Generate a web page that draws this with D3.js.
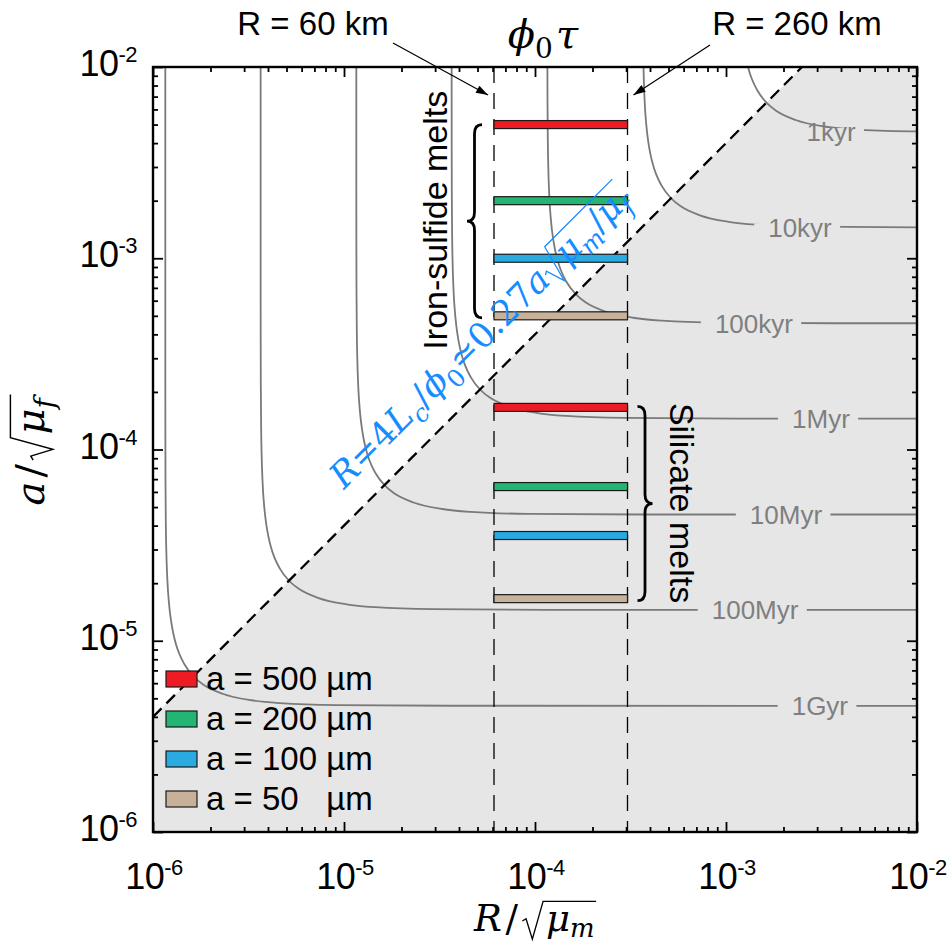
<!DOCTYPE html>
<html><head><meta charset="utf-8">
<script src="https://cdn.jsdelivr.net/npm/d3@7"></script>
<style>body{margin:0;background:#fff} svg{display:block}</style>
</head><body>
<svg id="c" width="952" height="944"></svg>
<script>
// ---------------- data ----------------
const decadeTicks = [1e-6, 1e-5, 1e-4, 1e-3, 1e-2];
const contourLabels = ["1kyr", "10kyr", "100kyr", "1Myr", "10Myr", "100Myr", "1Gyr"];
// vertical (large a) asymptote in R and horizontal (large R) asymptote in a, per isochrone
const contourR = [1.16e-3, 3.66e-4, 1.16e-4, 3.66e-5, 1.16e-5, 3.66e-6, 1.16e-6];
const contourA = [4.57e-3, 1.45e-3, 4.57e-4, 1.45e-4, 4.57e-5, 1.45e-5, 4.57e-6];
const contourLabelR = [3.55e-3, 2.44e-3, 1.40e-3, 3.14e-3, 2.06e-3, 1.42e-3, 3.10e-3];
// knee shape of each isochrone, in decades away from its two asymptotes
const kneeDR = [0, 0.00003, 0.0001, 0.0003, 0.001, 0.003, 0.005, 0.01, 0.02, 0.03, 0.04, 0.055, 0.07, 0.1, 0.15, 0.2, 0.3, 0.45, 0.6, 0.9, 1.5, 4];
const kneeDA = [5, 1.93, 1.67, 1.43, 1.169, 0.931, 0.821, 0.673, 0.528, 0.445, 0.387, 0.325, 0.280, 0.217, 0.151, 0.110, 0.063, 0.029, 0.014, 0.0035, 0.0002, 0];
const diagonalR = [1e-6, 2.5e-3];
const diagonalA = [4e-6, 1e-2];
const radiusR = [6.1e-5, 3.05e-4];
const radiusLabels = ["R = 60 km", "R = 260 km"];
const grainLabels = ["a = 500 µm", "a = 200 µm", "a = 100 µm", "a = 50   µm"];
const grainColors = ["#ed1c24", "#22b573", "#29abe2", "#c7b299"];
const ironA = [5.0e-3, 2.0e-3, 1.0e-3, 5.0e-4];
const silicateA = [1.66e-4, 6.4e-5, 3.55e-5, 1.66e-5];

// ---------------- setup ----------------
const svg = d3.select("#c");
const L = 153, R = 917, T = 67, B = 832;
const x = d3.scaleLog().domain([1e-6, 1e-2]).range([L, R]);
const y = d3.scaleLog().domain([1e-6, 1e-2]).range([B, T]);
const sans = "'Liberation Sans', Arial, Helvetica, sans-serif";
const serif = "'DejaVu Serif', 'Liberation Serif', serif";
const shade = "#e6e6e6";

const defs = svg.append("defs");
defs.append("clipPath").attr("id", "clip").append("rect")
  .attr("x", L).attr("y", T).attr("width", R - L).attr("height", B - T);
defs.append("marker").attr("id", "arr").attr("viewBox", "0 0 12 8")
  .attr("refX", 12).attr("refY", 4).attr("markerWidth", 13).attr("markerHeight", 8)
  .attr("markerUnits", "userSpaceOnUse").attr("orient", "auto")
  .append("path").attr("d", "M0,0 L12,4 L0,8 Z").attr("fill", "#000");

const plot = svg.append("g").attr("clip-path", "url(#clip)");

// shaded region below diagonal
const shadePts = [[diagonalR[0], diagonalA[0]], [diagonalR[1], diagonalA[1]], [1e-2, 1e-2], [1e-2, 1e-6], [1e-6, 1e-6]];
plot.append("path").attr("d", d3.line().x(d => x(d[0])).y(d => y(d[1]))(shadePts) + "Z")
  .attr("fill", shade);

// isochrone curves
const cline = d3.line().x(d => x(d[0])).y(d => y(d[1])).curve(d3.curveMonotoneX);
contourLabels.forEach((lab, i) => {
  const pts = kneeDR.map((d, j) => [contourR[i] * Math.pow(10, d), contourA[i] * Math.pow(10, kneeDA[j])]);
  plot.append("path").attr("d", cline(pts)).attr("fill", "none")
    .attr("stroke", "#7a7a7a").attr("stroke-width", 1.8);
});

// diagonal dashed line
plot.append("line")
  .attr("x1", x(diagonalR[0])).attr("y1", y(diagonalA[0]))
  .attr("x2", x(diagonalR[1])).attr("y2", y(diagonalA[1]))
  .attr("stroke", "#000").attr("stroke-width", 2.3).attr("stroke-dasharray", "12,7");

// contour labels with gaps
contourLabels.forEach((lab, i) => {
  const cx = x(contourLabelR[i]), cy = y(contourA[i]);
  const g = svg.append("g");
  const rect = g.append("rect").attr("fill", shade);
  const t = g.append("text").attr("x", cx).attr("y", cy + 26 * 0.36)
    .attr("text-anchor", "middle").attr("font-family", sans).attr("font-size", 26)
    .attr("fill", "#7f7f7f").text(lab);
  const bb = t.node().getBBox();
  rect.attr("x", bb.x - 14).attr("y", cy - 4).attr("width", bb.width + 22).attr("height", 8);
});

// vertical dashed radius lines
radiusR.forEach(r => {
  svg.append("line").attr("x1", x(r)).attr("x2", x(r)).attr("y1", T).attr("y2", B)
    .attr("stroke", "#000").attr("stroke-width", 1.3).attr("stroke-dasharray", "16,10");
});

// bars
const barH = 8;
[ironA, silicateA].forEach(arr => {
  arr.forEach((a, i) => {
    svg.append("rect").attr("x", x(radiusR[0])).attr("width", x(radiusR[1]) - x(radiusR[0]))
      .attr("y", y(a) - barH / 2).attr("height", barH)
      .attr("fill", grainColors[i]).attr("stroke", "#1a1a1a").attr("stroke-width", 1.2);
  });
});

// braces
function brace(xb, xt, y1, y2) {
  const xm = (xb + xt) / 2, ym = (y1 + y2) / 2, r = 9;
  return `M${xb},${y1} Q${xm},${y1} ${xm},${y1 + r} L${xm},${ym - r} Q${xm},${ym} ${xt},${ym} ` +
    `Q${xm},${ym} ${xm},${ym + r} L${xm},${y2 - r} Q${xm},${y2} ${xb},${y2}`;
}
svg.append("path").attr("d", brace(x(radiusR[0]) - 12, x(radiusR[0]) - 27, y(ironA[0]), y(ironA[3]) + 2))
  .attr("fill", "none").attr("stroke", "#000").attr("stroke-width", 2.8);
svg.append("path").attr("d", brace(x(radiusR[1]) + 10, x(radiusR[1]) + 25, y(silicateA[0]) - 1, y(silicateA[3]) + 2))
  .attr("fill", "none").attr("stroke", "#000").attr("stroke-width", 2.8);

svg.append("text").attr("transform", `translate(${x(radiusR[0]) - 47},${(y(ironA[0]) + y(ironA[3])) / 2}) rotate(-90)`)
  .attr("text-anchor", "middle").attr("font-family", sans).attr("font-size", 34).text("Iron-sulfide melts");
svg.append("text").attr("transform", `translate(${x(radiusR[1]) + 42},${(y(silicateA[0]) + y(silicateA[3])) / 2}) rotate(90)`)
  .attr("text-anchor", "middle").attr("font-family", sans).attr("font-size", 34).text("Silicate melts");

// legend
grainLabels.forEach((lab, i) => {
  const cy = 679 + i * 40;
  svg.append("rect").attr("x", 166).attr("y", cy - 8).attr("width", 31).attr("height", 16)
    .attr("fill", grainColors[i]).attr("stroke", "#1a1a1a").attr("stroke-width", 1.2);
  svg.append("text").attr("x", 206).attr("y", cy + 11).attr("font-family", sans).attr("font-size", 33)
    .attr("xml:space", "preserve").style("white-space", "pre").text(lab);
});

// ---------------- axes ----------------
const minor = x.ticks().filter(v => !decadeTicks.some(d => Math.abs(v / d - 1) < 1e-6));
function ax(gen, scale, vals, size, tr) {
  const g = svg.append("g").attr("transform", tr)
    .call(gen(scale).tickValues(vals).tickSize(-size).tickSizeOuter(0).tickFormat(""));
  g.select(".domain").remove();
  g.selectAll(".tick line").attr("stroke", "#000").attr("stroke-width", 1.8);
}
[[minor, 5], [decadeTicks, 10]].forEach(([vals, s]) => {
  ax(d3.axisBottom, x, vals, s, `translate(0,${B})`);
  ax(d3.axisTop, x, vals, s, `translate(0,${T})`);
  ax(d3.axisLeft, y, vals, s, `translate(${L},0)`);
  ax(d3.axisRight, y, vals, s, `translate(${R},0)`);
});
svg.append("rect").attr("x", L).attr("y", T).attr("width", R - L).attr("height", B - T)
  .attr("fill", "none").attr("stroke", "#000").attr("stroke-width", 2.4);

function powLabel(v, px, py, anchor) {
  const t = svg.append("text").attr("x", px).attr("y", py).attr("text-anchor", anchor)
    .attr("font-family", sans).attr("font-size", 36).attr("letter-spacing", -0.5);
  t.append("tspan").text("10");
  t.append("tspan").attr("dy", -14).attr("font-size", 22).text(String(Math.round(Math.log10(v))));
}
decadeTicks.forEach(v => powLabel(v, x(v) + 1, 889, "middle"));
decadeTicks.forEach(v => powLabel(v, L - 16, y(v) + 9, "end"));

// ---------------- math text ----------------
function mathLayout(parent, parts, fs, color, radH, subOff) {
  const g = parent.append("g");
  let cx = 0;
  const h = radH || 0.86;
  const so = subOff || 0.25;
  function piece(p) {
    if (p.rad) {
      const x0 = cx; cx += fs * 0.64;
      p.rad.forEach(piece);
      const x1 = cx + fs * 0.04;
      g.append("path").attr("d",
        `M${x0},${-fs * 0.27} L${x0 + fs * 0.1},${-fs * 0.33} L${x0 + fs * 0.27},${fs * 0.22} L${x0 + fs * 0.56},${-fs * h} L${x1},${-fs * h}`)
        .attr("fill", "none").attr("stroke", color).attr("stroke-width", fs * 0.036);
      cx = x1;
      return;
    }
    cx += (p.pre || 0) * fs;
    const sub = !!p.sub;
    const t = g.append("text").attr("x", cx).attr("y", sub ? fs * so : 0)
      .attr("font-family", serif).attr("font-size", sub ? fs * 0.7 : fs)
      .attr("font-style", p.it ? "italic" : "normal").attr("fill", color).text(p.t);
    cx += t.node().getComputedTextLength() + (p.dx || 0) * fs;
  }
  parts.forEach(piece);
  return { g, width: cx };
}
function centered(tr, parts, fs, color, radH, subOff) {
  const outer = svg.append("g").attr("transform", tr);
  const m = mathLayout(outer, parts, fs, color, radH, subOff);
  m.g.attr("transform", `translate(${-m.width / 2},0)`);
}
// title
centered("translate(543,48)", [{ t: "ϕ", it: true }, { t: "0", sub: true, dx: 0.08 }, { t: "τ", it: true }], 40, "#000");
// x label
centered("translate(535,931)", [{ t: "R", it: true }, { t: "/", pre: 0.1, dx: 0.12 }, { rad: [{ t: "μ", it: true }, { t: "m", it: true, sub: true }] }], 37, "#000", 0.8, 0.17);
// y label
centered("translate(44,450) rotate(-90)", [{ t: "a", it: true }, { t: "/", pre: 0.1, dx: 0.1 }, { rad: [{ t: "μ", it: true }, { t: "f", it: true, sub: true, dx: 0.05 }] }], 40, "#000", 0.84);
// blue relation along the diagonal
{
  const g = svg.append("g").attr("transform", "translate(344,490) rotate(-45)");
  mathLayout(g, [
    { t: "R", it: true }, { t: "=" }, { t: "4" }, { t: "L", it: true }, { t: "c", it: true, sub: true },
    { t: "/" }, { t: "ϕ", it: true }, { t: "0", sub: true }, { t: "≃" }, { t: "0.27" }, { t: "a", it: true },
    { rad: [{ t: "μ", it: true }, { t: "m", it: true, sub: true }, { t: "/" }, { t: "μ", it: true }, { t: "f", it: true, sub: true, dx: 0.05 }] }
  ], 35, "#168cff");
}

// radius annotations
radiusLabels.forEach((lab, i) => {
  const tx = i === 0 ? 313 : 797;
  svg.append("text").attr("x", tx).attr("y", 35).attr("text-anchor", "middle")
    .attr("font-family", sans).attr("font-size", 33).text(lab);
});
svg.append("line").attr("x1", 393).attr("y1", 43).attr("x2", x(radiusR[0]) - 6).attr("y2", 95)
  .attr("stroke", "#000").attr("stroke-width", 1.2).attr("marker-end", "url(#arr)");
svg.append("line").attr("x1", 710).attr("y1", 45).attr("x2", x(radiusR[1]) + 6).attr("y2", 95)
  .attr("stroke", "#000").attr("stroke-width", 1.2).attr("marker-end", "url(#arr)");
</script>
</body></html>
